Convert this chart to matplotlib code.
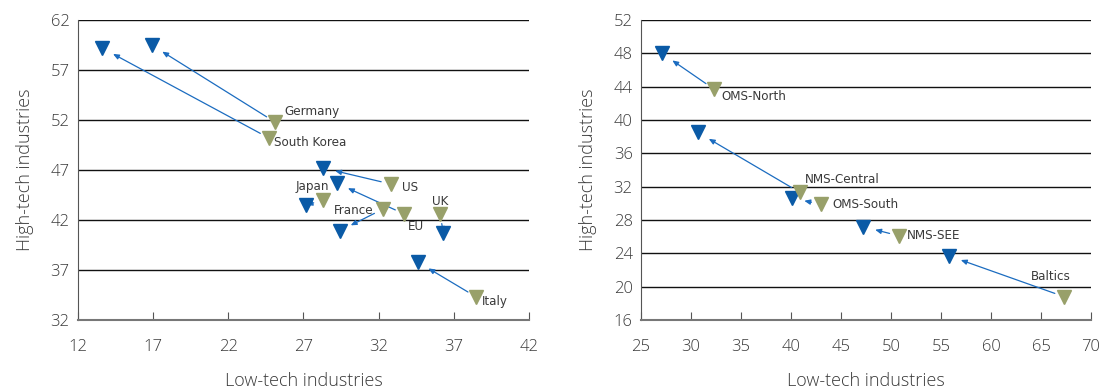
import matplotlib.pyplot as plt
from matplotlib import font_manager

# --- data: advanced economies (left panel) ---
adv_names = ['Germany', 'South Korea', 'Japan', 'US', 'UK', 'France', 'EU', 'Italy']
adv_low_start = [25.1, 24.7, 28.3, 32.8, 36.1, 32.3, 33.7, 38.5]
adv_high_start = [51.8, 50.2, 44.0, 45.6, 42.6, 43.1, 42.6, 34.3]
adv_low_end = [16.9, 13.6, 27.2, 28.3, 36.3, 29.4, 29.2, 34.6]
adv_high_end = [59.5, 59.2, 43.5, 47.2, 40.7, 40.9, 45.7, 37.8]

# --- data: European regions (right panel) ---
reg_names = ['OMS-North', 'NMS-Central', 'OMS-South', 'NMS-SEE', 'Baltics']
reg_low_start = [32.3, 40.9, 43.0, 50.8, 67.3]
reg_high_start = [43.7, 31.3, 29.9, 26.1, 18.8]
reg_low_end = [27.1, 30.7, 40.1, 47.2, 55.8]
reg_high_end = [48.0, 38.5, 30.6, 27.2, 23.7]

# label offsets (points) and alignment for each name
label_pos = {
    'Germany': (6.5, 7.7, 'left'),
    'South Korea': (3.6, -3.3, 'left'),
    'Japan': (-7.9, 9.6, 'center'),
    'US': (8.2, -2.4, 'left'),
    'UK': (0, 8.9, 'center'),
    'France': (-7.2, -1.4, 'right'),
    'EU': (2.4, -9.1, 'left'),
    'Italy': (4.1, -3.2, 'left'),
    'OMS-North': (5.5, -5.3, 'left'),
    'NMS-Central': (3.6, 9.6, 'left'),
    'OMS-South': (7.9, 0, 'left'),
    'NMS-SEE': (6.0, 0, 'left'),
    'Baltics': (-23.5, 14.4, 'left'),
}

installed = {f.name for f in font_manager.fontManager.ttflist}
narrow = 'Liberation Sans Narrow' if 'Liberation Sans Narrow' in installed else 'DejaVu Sans'
plt.rcParams['font.family'] = ['Open Sans', 'DejaVu Sans']

BLUE = '#0a5aa6'
GREEN = '#98a06a'
ARROW = '#1b6cc0'
TEXT = '#3a3a3a'


def draw_panel(ax, names, x0, y0, x1, y1, xlim, ylim, xticks, yticks):
    for yt in yticks:
        ax.axhline(yt, color='#111111', lw=1.0, zorder=1)
    for i in range(len(names)):
        ax.annotate('', xy=(x1[i], y1[i]), xytext=(x0[i], y0[i]),
                    arrowprops=dict(arrowstyle='-|>,head_length=0.35,head_width=0.15',
                                    color=ARROW, lw=0.9, shrinkA=7, shrinkB=9),
                    zorder=2)
    ax.plot(x1, y1, 'v', color=BLUE, ms=9.5, mec=BLUE, zorder=3)
    ax.plot(x0, y0, 'v', color=GREEN, ms=9.5, mec=GREEN, zorder=3)
    for i, n in enumerate(names):
        dx, dy, ha = label_pos[n]
        ax.annotate(n, (x0[i], y0[i]), xytext=(dx, dy), textcoords='offset points',
                    ha=ha, va='center', fontsize=9.5, family=narrow,
                    fontstretch='condensed', color=TEXT, zorder=4)
    ax.set_xlim(xlim)
    ax.set_ylim(ylim)
    ax.set_xticks(xticks)
    ax.set_yticks(yticks)
    ax.spines['top'].set_visible(False)
    ax.spines['right'].set_visible(False)
    ax.spines['left'].set_color('#555555')
    ax.spines['bottom'].set_color('#777777')
    ax.spines['bottom'].set_linewidth(1.5)
    ax.tick_params(axis='x', direction='in', length=6, color='#555555',
                   labelsize=12, labelcolor=TEXT, pad=14)
    ax.tick_params(axis='y', length=0, labelsize=12, labelcolor=TEXT, pad=6)
    for lab in ax.get_xticklabels() + ax.get_yticklabels():
        lab.set_fontweight('light')
    ax.set_xlabel('Low-tech industries', fontsize=13, color=TEXT, labelpad=12,
                  fontweight='light')
    ax.set_ylabel('High-tech industries', fontsize=13, color=TEXT, labelpad=12,
                  fontweight='light')


fig = plt.figure(figsize=(11.01, 3.89), dpi=100)
ax1 = fig.add_axes([0.0708, 0.1774, 0.4096, 0.7712])
ax2 = fig.add_axes([0.5822, 0.1774, 0.4087, 0.7712])

draw_panel(ax1, adv_names, adv_low_start, adv_high_start, adv_low_end, adv_high_end,
           (12, 42), (32, 62), range(12, 43, 5), range(32, 63, 5))
draw_panel(ax2, reg_names, reg_low_start, reg_high_start, reg_low_end, reg_high_end,
           (25, 70), (16, 52), range(25, 71, 5), range(16, 53, 4))

fig.savefig('out.png', dpi=100)
